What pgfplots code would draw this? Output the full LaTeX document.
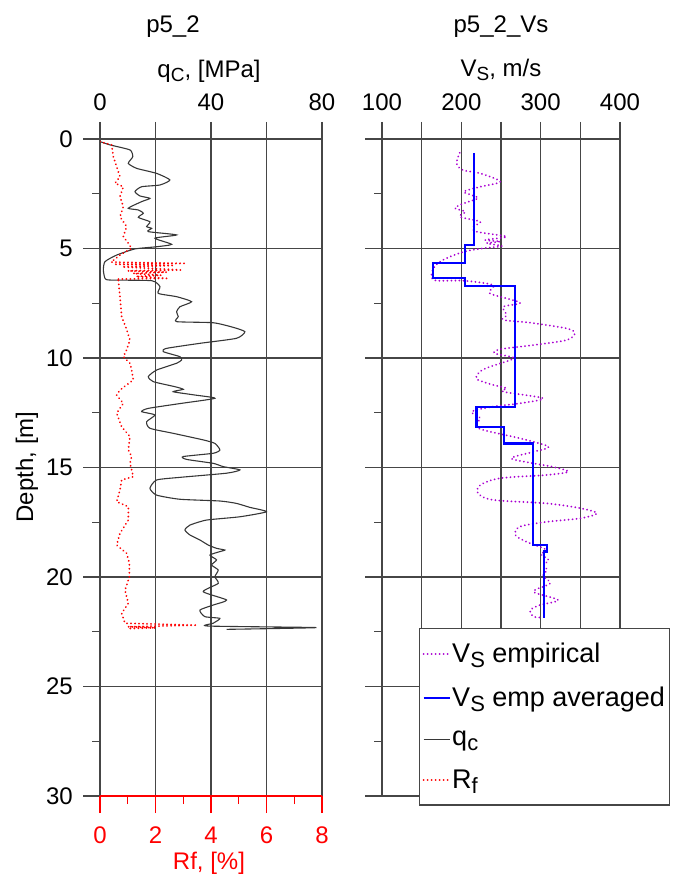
\documentclass[border=0pt]{standalone}
\usepackage{fontspec}
\setmainfont{Liberation Sans}
\usepackage{pgfplots}
\pgfplotsset{compat=1.18}
\usepackage{pgfplotstable}

\definecolor{gridgray}{RGB}{70,70,70}
\definecolor{qccol}{RGB}{55,55,55}
\definecolor{vsemp}{RGB}{170,0,210}
\definecolor{vsavg}{RGB}{0,0,255}
\definecolor{rfred}{RGB}{255,0,0}

\newcommand\cf{\fontsize{24}{29}\selectfont}
\newcommand\lf{\fontsize{27}{32}\selectfont}
\newcommand\sub[1]{\raisebox{-0.3ex}{\fontsize{19}{20}\selectfont #1}}
\newcommand\lsub[1]{\raisebox{-0.3ex}{\fontsize{22}{23}\selectfont #1}}

\pgfplotstableread{
d qc
0.12 0
0.27 3.6
0.5 10.8
0.81 11.8
1.11 10.2
1.34 13.2
1.57 20.4
1.87 25.2
2.1 21.6
2.18 15
2.4 12.6
2.6 14.4
2.71 18
2.86 15
3.16 10.2
3.24 13.8
3.39 15.6
3.58 13.8
3.78 18
4.0 16.8
4.08 18.6
4.23 17.4
4.38 27.6
4.53 19.8
4.81 25.8
4.92 20.4
5.02 12.6
5.3 6
5.6 1.8
5.98 1.2
6.36 1.8
6.44 3.6
6.47 18.6
6.74 21.6
7.05 21
7.2 27.6
7.43 33
7.66 28.8
7.89 27.6
8.11 28.2
8.34 27.6
8.39 40.8
8.6 48
8.8 52.2
9.1 49.2
9.33 36
9.56 24
9.71 22.8
9.94 28.8
10.09 29.4
10.24 27.6
10.55 20.4
10.85 17.4
11.08 19.2
11.31 27
11.43 30
11.54 26.4
11.69 34.2
11.84 41.4
12.07 29.4
12.3 17.4
12.45 15
12.6 19.8
12.91 16.8
13.21 18
13.44 26.4
13.74 37.2
13.9 41.4
14.2 43.2
14.35 40.8
14.5 30
14.63 31.2
14.81 40.8
14.96 44.4
15.11 50.4
15.26 45.6
15.45 28.8
15.57 20.4
15.95 18
16.26 20.4
16.45 28.8
16.53 43.2
16.64 49.2
16.82 54
17.02 60
17.25 50.4
17.4 38.4
17.63 32.4
17.85 30.6
18.08 32.4
18.31 36
18.54 39
18.69 42
18.77 45
18.84 43.2
19.0 39.6
19.22 42
19.45 40.2
19.68 42.6
19.99 41.4
20.29 42.6
20.67 37.2
21.05 45.6
21.28 40.8
21.51 36
21.81 37.8
21.89 43.2
22.11 40.8
22.24 39
22.31 78
22.39 45.6
}\qctab

\pgfplotstableread{
d rf
0.12 0
0.27 0.42
0.81 0.48
1.26 0.6
1.72 0.72
2.02 0.54
2.18 0.84
2.63 0.72
3.09 0.84
3.55 0.72
4.0 0.96
4.46 0.84
4.76 1.02
4.99 1.14
5.3 0.72
5.62 0.4
5.68 3.1
5.72 0.5
5.78 2.6
5.84 0.8
5.98 2.9
6.02 1.0
6.08 2.4
6.14 1.2
6.22 2.2
6.28 1.3
6.36 2.4
6.40 0.6
6.44 0.66
7.2 0.72
8.1 0.78
8.7 0.96
9.18 1.08
9.63 0.96
9.94 0.84
10.24 1.08
10.55 1.14
11.0 1.2
11.46 0.72
11.69 0.6
12.07 0.84
12.52 0.6
13.14 0.78
13.59 1.08
14.2 1.02
14.5 1.14
14.81 1.08
15.42 1.2
15.57 0.78
16.03 0.72
16.56 0.6
16.79 1.02
17.4 1.02
18.0 0.72
18.54 0.6
18.92 0.96
19.38 1.06
19.99 1.06
20.6 0.9
21.2 1.02
21.66 0.78
22.11 0.9
22.2 3.5
22.27 1.0
22.32 2.0
22.36 0.95
}\rftab

\pgfplotstableread{
d vs
0.63 198
1.11 194
1.42 202
1.57 224
1.95 249
2.18 224
2.4 203
2.56 213
2.71 221
2.94 203
3.16 192
3.32 205
3.55 198
3.78 224
4.0 215
4.23 219
4.46 257
4.61 230
4.68 249
4.76 232
4.89 251
4.99 228
5.15 203
5.52 177
5.9 165
6.44 165
6.47 203
6.67 240
7.05 236
7.47 274
7.66 253
8.04 257
8.26 253
8.39 287
8.65 333
8.87 343
9.18 333
9.41 291
9.6 249
9.79 242
10.01 266
10.4 236
10.6 224
10.85 219
11.0 221
11.23 240
11.38 257
11.54 253
11.84 303
12.07 274
12.22 240
12.45 213
12.75 224
13.06 217
13.29 228
13.67 274
14.05 310
14.28 291
14.58 263
14.81 291
14.96 314
15.19 335
15.34 308
15.49 249
15.8 224
16.18 221
16.48 240
16.64 308
16.86 350
17.09 371
17.32 350
17.48 308
17.7 274
18.08 268
18.39 282
18.77 308
18.95 300
19.22 310
19.45 304
19.68 308
19.95 303
20.29 312
20.67 291
21.05 322
21.28 299
21.51 287
21.81 291
21.85 303
}\vsemptab

\pgfplotstableread{
d vs
0.63 216
4.84 216
4.84 205
5.65 205
5.65 164
6.36 164
6.36 205
6.7 205
6.7 268
12.22 268
12.22 219
13.14 219
13.14 254
13.9 254
13.9 290
18.54 290
18.54 308
18.84 308
18.84 304
21.89 304
}\vsavgtab

\tikzset{
  rfdots/.style={draw=rfred, line width=2pt, line cap=round, dash pattern=on 0.01pt off 4pt},
  vsdots/.style={draw=vsemp, line width=2pt, line cap=round, dash pattern=on 0.01pt off 4pt},
  qcline/.style={draw=qccol, line width=1.1pt},
  vsline/.style={draw=vsavg, line width=2.2pt},
}

\pgfplotsset{
  depthaxis/.style={
    scale only axis, height=657pt,
    ymin=0, ymax=30, y dir=reverse,
    tick align=outside, major tick length=17pt, minor tick length=8pt,
    axis line style={draw=gridgray, line width=1.3pt},
    every outer x axis line/.append style={-},
    every outer y axis line/.append style={-},
    every inner x axis line/.append style={-},
    every inner y axis line/.append style={-},
    tick style={draw=gridgray, line width=1.3pt},
    major grid style={draw=gridgray, line width=1.3pt},
    ticklabel style={font=\cf, inner sep=0pt},
    yticklabel style={xshift=-10pt},
    /pgf/number format/assume math mode=true,
    ytick={0,5,...,30}, minor ytick={2.5,7.5,...,27.5},
  }
}

\begin{document}
\begin{tikzpicture}
\path[use as bounding box] (0pt,0pt) rectangle (680pt,877pt);

% q_c axis
\begin{axis}[depthaxis,
  at={(100pt,81pt)}, anchor=south west, width=222pt,
  xmin=0, xmax=80,
  axis x line*=top, axis y line*=left,
  xtick={0,20,40,60,80}, xticklabels={0,,40,,80},
  xticklabel style={yshift=11pt},
  grid=major,
]
\addplot[qcline, smooth, tension=0.35] table[x=qc, y=d] {\qctab};
\end{axis}

% R_f axis
\begin{axis}[depthaxis,
  at={(100pt,81pt)}, anchor=south west, width=222pt,
  xmin=0, xmax=8,
  axis x line*=bottom, axis y line=none,
  xtick={0,2,4,6,8}, minor xtick={1,3,5,7},
  axis line style={draw=rfred, line width=1.3pt},
  tick style={draw=rfred, line width=1.3pt},
  xticklabel style={text=rfred, yshift=-14pt},
]
\addplot[rfdots] table[x=rf, y=d] {\rftab};
\end{axis}

% V_s axis
\begin{axis}[depthaxis,
  at={(382pt,81pt)}, anchor=south west, width=238pt,
  xmin=100, xmax=400,
  axis x line*=top, axis y line*=left,
  xtick={100,150,...,400}, xticklabels={100,,200,,300,,400},
  xticklabel style={yshift=11pt},
  yticklabels={},
  grid=major,
  legend style={at={(0.155,0.2557)}, anchor=north west, draw=gridgray, line width=1.3pt,
    fill=white, font=\lf, row sep=20pt, inner xsep=3pt, inner ysep=13pt,
    nodes={inner sep=1.5pt}},
  legend cell align=left,
  legend image code/.code={\draw[#1] (0pt,0pt) -- (26pt,0pt);},
]
\addplot[vsdots, smooth, tension=0.5] table[x=vs, y=d] {\vsemptab};
\addlegendentry{V\lsub{S} empirical}
\addplot[vsline] table[x=vs, y=d] {\vsavgtab};
\addlegendentry{V\lsub{S} emp averaged}
\addlegendimage{qcline}
\addlegendentry{q\lsub{c}}
\addlegendimage{rfdots}
\addlegendentry{R\lsub{f}}
\end{axis}

\node[font=\cf, anchor=base] at (173pt,844pt) {p5\_2};
\node[font=\cf, anchor=base] at (209pt,799pt) {q\sub{C}, [MPa]};
\node[font=\cf, anchor=base] at (501pt,844pt) {p5\_2\_Vs};
\node[font=\cf, anchor=base] at (501pt,800pt) {V\sub{S}, m/s};
\node[font=\cf, anchor=base, rotate=90] at (33pt,410pt) {Depth, [m]};
\node[font=\cf, anchor=base, text=rfred] at (209pt,7pt) {Rf, [\%]};
\end{tikzpicture}
\end{document}
